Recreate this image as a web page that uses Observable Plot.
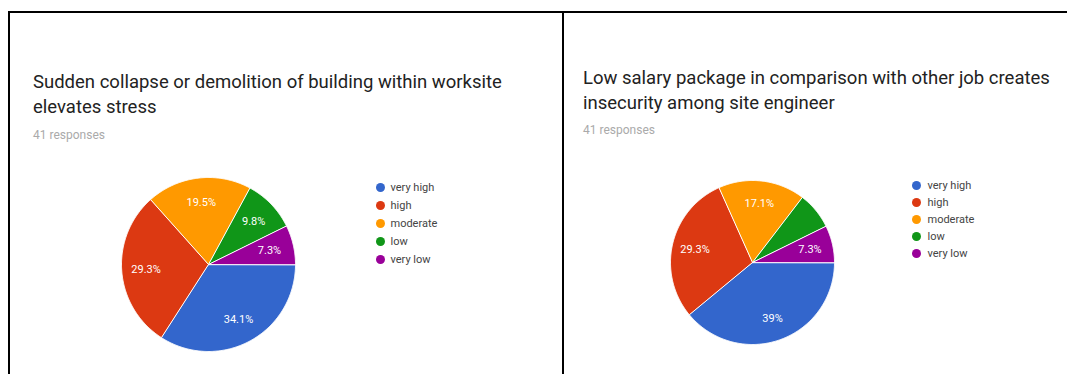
<!DOCTYPE html>
<html><head><meta charset="utf-8">
<script src="https://cdn.jsdelivr.net/npm/d3@7"></script>
<script src="https://cdn.jsdelivr.net/npm/@observablehq/plot@0.6"></script>
<style>
html,body{margin:0;padding:0;background:#fff;}
body{width:1067px;height:374px;overflow:hidden;position:relative;font-family:Roboto,"Open Sans",sans-serif;}
.line{position:absolute;background:#000;}
.title{position:absolute;font-size:18.5px;line-height:24.5px;color:#222;white-space:nowrap;}
.sub{position:absolute;font-size:12px;color:#aaa;white-space:nowrap;}
.abs{position:absolute;}
</style></head><body>
<script>
// ---- data ----
const categories = ["very high", "high", "moderate", "low", "very low"];
const colors = ["#3366cc", "#dc3912", "#ff9900", "#109618", "#990099"];
const responses = "41 responses";

const leftTitle = ["Sudden collapse or demolition of building within worksite", "elevates stress"];
const leftValues = [34.1, 29.3, 19.5, 9.8, 7.3];
const leftLabels = ["34.1%", "29.3%", "19.5%", "9.8%", "7.3%"];

const rightTitle = ["Low salary package in comparison with other job creates", "insecurity among site engineer"];
const rightValues = [39.0, 29.3, 17.1, 7.3, 7.3];
const rightLabels = ["39%", "29.3%", "17.1%", "", "7.3%"];

// ---- layout ----
const body = document.body;
function div(cls, style, html) {
  const d = document.createElement("div");
  d.className = cls; Object.assign(d.style, style); if (html != null) d.innerHTML = html;
  body.appendChild(d); return d;
}
// frame lines
div("line", {left: "8px", top: "11px", width: "1059px", height: "2px"});
div("line", {left: "8px", top: "11px", width: "2px", height: "363px"});
div("line", {left: "562px", top: "11px", width: "2px", height: "363px"});

function slices(values, labels) {
  const total = d3.sum(values);
  const pts = [], labs = [];
  let a = 0;
  values.forEach((v, i) => {
    const a0 = a, a1 = a + v / total * 2 * Math.PI; a = a1;
    const n = Math.max(2, Math.ceil((a1 - a0) / 0.01));
    pts.push({key: categories[i], x: 0, y: 0});
    for (let k = 0; k <= n; k++) {
      const t = a0 + (a1 - a0) * k / n;
      pts.push({key: categories[i], x: Math.cos(t), y: -Math.sin(t)});
    }
    const m = (a0 + a1) / 2;
    if (labels[i]) labs.push({text: labels[i], x: 0.72 * Math.cos(m), y: -0.72 * Math.sin(m)});
  });
  return {pts, labs};
}

function panel(p) {
  div("title", {left: p.tx + "px", top: p.ty + "px"}, p.title.join("<br>"));
  div("sub", {left: p.tx + "px", top: p.sy + "px"}, responses);

  const {pts, labs} = slices(p.values, p.labels);
  const L = p.cx - 110, T = p.cy - 110, W = 220, H = 220;
  const pie = Plot.plot({
    width: W, height: H, margin: 0,
    style: {background: "transparent", overflow: "visible"},
    x: {domain: [-1, 1], range: [p.cx - p.r - L, p.cx + p.r - L], axis: null},
    y: {domain: [-1, 1], range: [p.cy + p.r - T, p.cy - p.r - T], axis: null},
    color: {domain: categories, range: colors},
    marks: [
      Plot.line(pts, {x: "x", y: "y", z: "key", fill: "key", stroke: "white", strokeWidth: 1, curve: "linear-closed"}),
      Plot.text(labs, {x: "x", y: "y", text: "text", fill: "white", fontSize: 11, fontFamily: "Roboto"})
    ]
  });
  const pd = div("abs", {left: L + "px", top: T + "px"});
  pd.appendChild(pie);

  const LL = p.lx - 10, LT = p.ly0 - 12;
  const legend = Plot.plot({
    width: 110, height: 100, margin: 0,
    style: {background: "transparent", overflow: "visible"},
    x: {domain: [0, 1], range: [10, 100], axis: null},
    y: {type: "point", padding: 0, domain: categories, range: [12, 12 + (p.ly1 - p.ly0)], axis: null},
    color: {domain: categories, range: colors},
    marks: [
      Plot.dot(categories, {x: 0, y: d => d, fill: d => d, r: 4.5}),
      Plot.text(categories, {x: 0, y: d => d, text: d => d, dx: p.tdx, textAnchor: "start", fill: "#444", fontSize: 11, fontFamily: "Roboto"})
    ]
  });
  const ld = div("abs", {left: LL + "px", top: LT + "px"});
  ld.appendChild(legend);
}

panel({title: leftTitle, values: leftValues, labels: leftLabels,
  tx: 33, ty: 70, sy: 128, cx: 208, cy: 264, r: 87, lx: 380, ly0: 187, ly1: 259, tdx: 10});
panel({title: rightTitle, values: rightValues, labels: rightLabels,
  tx: 583, ty: 66, sy: 123, cx: 752, cy: 262, r: 82, lx: 916, ly0: 183, ly1: 254, tdx: 11});
</script>
</body></html>
